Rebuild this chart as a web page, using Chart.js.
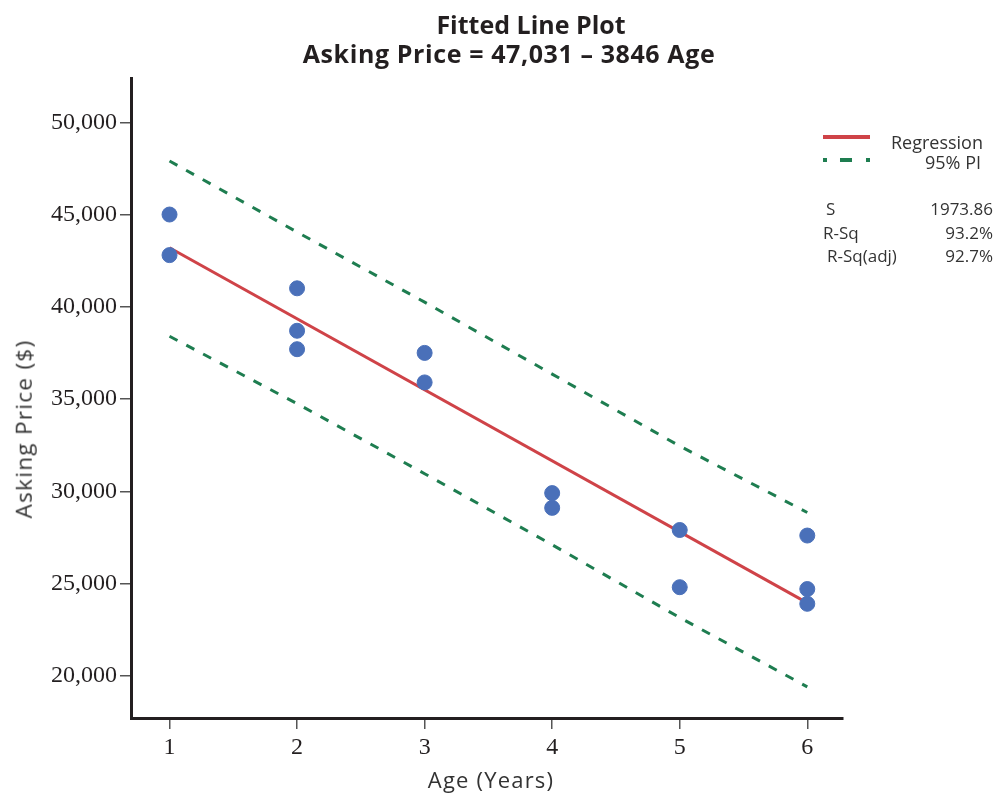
<!DOCTYPE html>
<html>
<head>
<meta charset="utf-8">
<script src="https://cdn.jsdelivr.net/npm/chart.js@4.4.1/dist/chart.umd.min.js"></script>
<style>
body{margin:0;background:#fff;}
#wrap{position:relative;width:995px;height:795px;overflow:hidden;font-family:"Open Sans",sans-serif;color:#231f20;}
#chart{position:absolute;left:0;top:0;}
.t{position:absolute;white-space:nowrap;line-height:1;}
.title{font-weight:700;font-size:25px;transform:translateX(-50%);}
.lab{font-size:17px;color:#333;}
.r{transform:translateX(-100%);}
</style>
</head>
<body>
<div id="wrap">
<canvas id="chart" width="995" height="795"></canvas>

<div class="t title" style="left:531px;top:12px;">Fitted Line Plot</div>
<div class="t title" style="left:509px;top:41px;letter-spacing:0.6px;">Asking Price = 47,031 – 3846 Age</div>

<div class="t" style="left:491px;top:768px;font-size:22px;letter-spacing:1.2px;color:#333;transform:translateX(-50%);">Age (Years)</div>
<div class="t" style="left:24px;top:429px;font-size:22.5px;letter-spacing:1.3px;color:#333;transform:translate(-50%,-50%) rotate(-90deg);">Asking Price ($)</div>

<svg style="position:absolute;left:820px;top:128px;" width="60" height="40">
<line x1="3" y1="9" x2="50" y2="9" stroke="#cf4348" stroke-width="4"/>
<line x1="3" y1="32" x2="50" y2="32" stroke="#1e7d50" stroke-width="4" stroke-dasharray="4 13 12 14 4"/>
</svg>
<div class="t lab r" style="left:983px;top:133px;font-size:18px;">Regression</div>
<div class="t lab r" style="left:981px;top:153px;font-size:18px;">95% PI</div>

<div class="t lab" style="left:826px;top:200px;">S</div>
<div class="t lab r" style="left:993px;top:200px;">1973.86</div>
<div class="t lab" style="left:823px;top:224px;">R-Sq</div>
<div class="t lab r" style="left:993px;top:224px;">93.2%</div>
<div class="t lab" style="left:827px;top:247px;">R-Sq(adj)</div>
<div class="t lab r" style="left:993px;top:247px;">92.7%</div>
</div>

<script>
// ===============================
// data
// ===============================

const ages=[1,1,2,2,2,3,3,4,4,5,5,6,6,6];
const prices=[45000,42800,41000,38700,37700,37500,35900,29900,29100,27900,24800,27600,24700,23900];

const fitAges=[1,6];
const fitPrices=[43200,23950];

const piAges=[1,2,3,4,5,6];
const piUpper=[47900,44050,40250,36350,32450,28850];
const piLower=[38400,34750,30950,27100,23150,19400];

const xTicks=[1,2,3,4,5,6];
const yTicks=[20000,25000,30000,35000,40000,45000,50000];


function pts(xs,ys){
return xs.map((x,i)=>({x:x,y:ys[i]}));
}


const green="#1e7d50";

new Chart(
document.getElementById("chart"),
{
type:"scatter",
data:{
datasets:[
{
label:"Data",
data:pts(ages,prices),
backgroundColor:"#4a70b9",
borderColor:"#4a70b9",
pointRadius:7.5,
pointHoverRadius:7.5
},
{
type:"line",
label:"Regression",
data:pts(fitAges,fitPrices),
borderColor:"#cf4348",
borderWidth:3,
pointRadius:0,
fill:false
},
{
type:"line",
label:"95% PI",
data:pts(piAges,piUpper),
borderColor:green,
borderWidth:3,
borderDash:[9,10],
pointRadius:0,
fill:false
},
{
type:"line",
label:"95% PI lower",
data:pts(piAges,piLower),
borderColor:green,
borderWidth:3,
borderDash:[9,10],
pointRadius:0,
fill:false
}
]
},
options:{
responsive:false,
devicePixelRatio:1,
animation:false,
layout:{padding:{top:78,right:152,left:0,bottom:0}},
plugins:{legend:{display:false},tooltip:{enabled:false},title:{display:false}},
scales:{
x:{
type:"linear",
min:0.698,
max:6.28,
afterBuildTicks:s=>{s.ticks=xTicks.map(v=>({value:v}));},
afterFit:s=>{s.height=77;},
grid:{drawOnChartArea:false,tickLength:11,color:"#555",lineWidth:1.5},
border:{display:true,width:3,color:"#231f20"},
ticks:{
padding:4,
color:"#231f20",
font:{family:"Liberation Serif",size:24}
}
},
y:{
min:17710,
max:52400,
afterBuildTicks:s=>{s.ticks=yTicks.map(v=>({value:v}));},
afterFit:s=>{s.width=131;},
grid:{drawOnChartArea:false,tickLength:11,color:"#555",lineWidth:1.5},
border:{display:true,width:3,color:"#231f20"},
ticks:{
padding:3,
color:"#231f20",
font:{family:"Liberation Serif",size:24},
callback:v=>v.toLocaleString("en-US")
}
}
}
}
}
);
</script>
</body>
</html>
